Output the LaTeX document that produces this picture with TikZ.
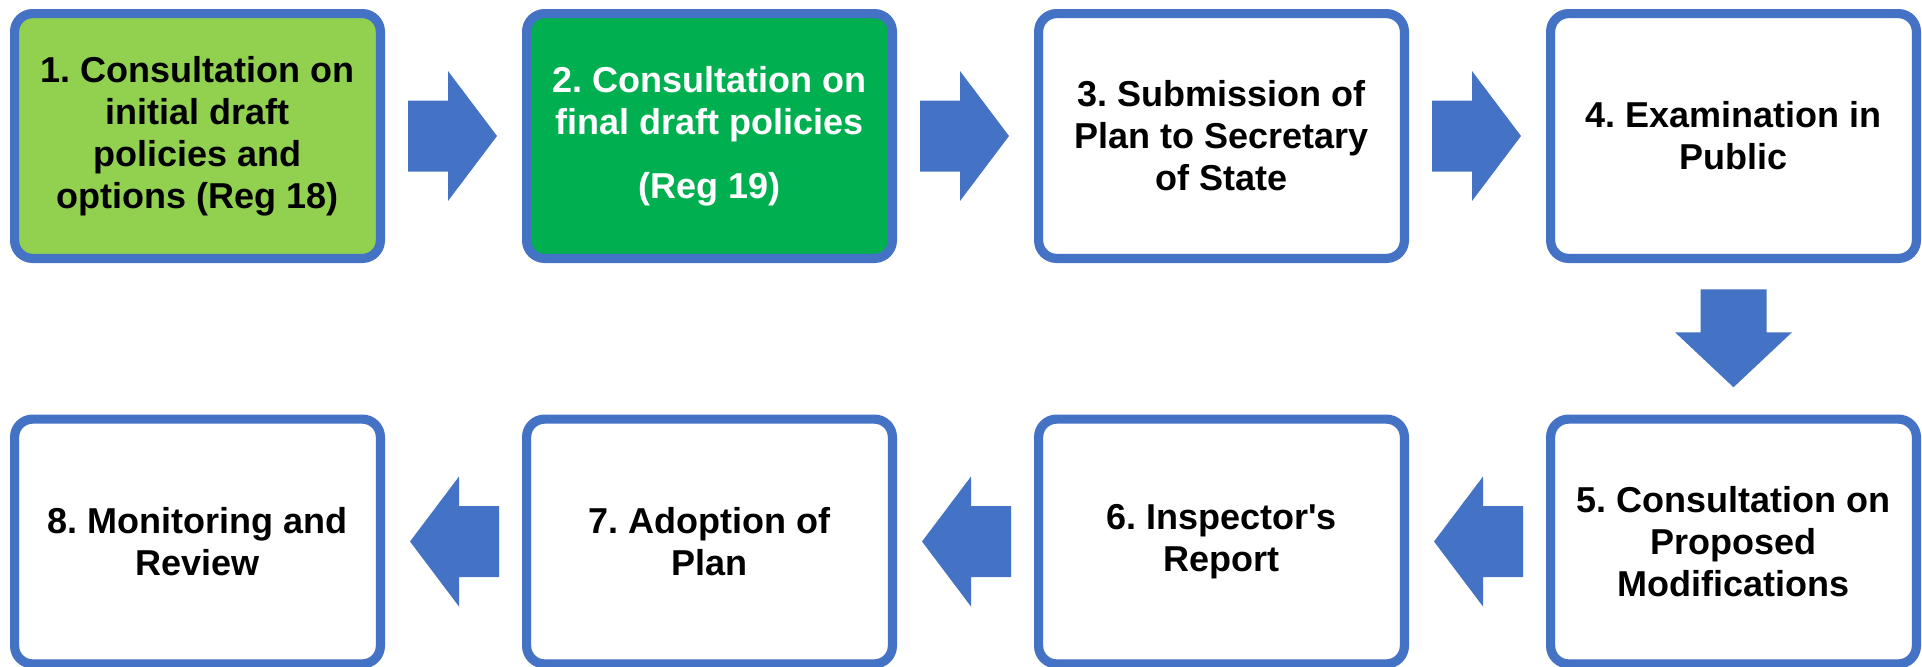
\documentclass[tikz,border=0pt]{standalone}
\usepackage{fontspec}
\setmainfont{Liberation Sans}
\usetikzlibrary{calc}
\definecolor{bord}{HTML}{4472C4}
\definecolor{lgreen}{HTML}{92D050}
\definecolor{dgreen}{HTML}{00B050}
\frenchspacing
\begin{document}
\begin{tikzpicture}[x=0.5pt,y=-0.5pt,
  stagebox/.style={draw=bord, line width=4.6pt, rounded corners=9pt,
    minimum width=182.9pt, minimum height=122.4pt, align=center,
    font=\fontsize{18}{21}\selectfont\bfseries, fill=white, inner sep=0pt},
  blockarrow/.style={fill=bord, draw=none}]
\useasboundingbox (0,0) rectangle (1922,666);
% row 1
\node[stagebox, fill=lgreen] (b1) at (197.5,136) {1. Consultation on\\initial draft\\policies and\\options (Reg 18)};
\node[stagebox, fill=dgreen, text=white] (b2) at (709.5,136) {2. Consultation on\\final draft policies\\[11pt](Reg 19)};
\node[stagebox] (b3) at (1221.5,136) {3. Submission of\\Plan to Secretary\\of State};
\node[stagebox] (b4) at (1733.5,136) {4. Examination in\\Public};
% row 2
\node[stagebox] (b5) at (1733.5,541.5) {5. Consultation on\\Proposed\\Modifications};
\node[stagebox] (b6) at (1221.5,541.5) {6. Inspector\textquotesingle s\\Report};
\node[stagebox] (b7) at (709.5,541.5) {7. Adoption of\\Plan};
\node[stagebox] (b8) at (197.5,541.5) {8. Monitoring and\\Review};
% connector positions
\coordinate (m12) at ($(b1.east)!0.5!(b2.west)$);
\coordinate (m23) at ($(b2.east)!0.5!(b3.west)$);
\coordinate (m34) at ($(b3.east)!0.5!(b4.west)$);
\coordinate (m45) at ($(b4.south)!0.5!(b5.north)$);
\coordinate (m56) at ($(b5.west)!0.5!(b6.east)$);
\coordinate (m67) at ($(b6.west)!0.5!(b7.east)$);
\coordinate (m78) at ($(b7.west)!0.5!(b8.east)$);
% right arrows
\foreach \m in {m12,m23,m34}{
  \fill[blockarrow, shift={(\m)}] (-45.5,-35.5) -- (-5.5,-35.5) -- (-5.5,-65) -- (43.5,0)
    -- (-5.5,65) -- (-5.5,35.5) -- (-45.5,35.5) -- cycle;
}
% down arrow
\fill[blockarrow, shift={(m45)}] (-33,-49.5) -- (33,-49.5) -- (33,-6.5) -- (58.5,-6.5)
  -- (0,48.5) -- (-58.5,-6.5) -- (-33,-6.5) -- cycle;
% left arrows
\foreach \m in {m56,m67,m78}{
  \fill[blockarrow, shift={(\m)}] (45.5,-35.5) -- (5.5,-35.5) -- (5.5,-65) -- (-43.5,0)
    -- (5.5,65) -- (5.5,35.5) -- (45.5,35.5) -- cycle;
}
\end{tikzpicture}
\end{document}
